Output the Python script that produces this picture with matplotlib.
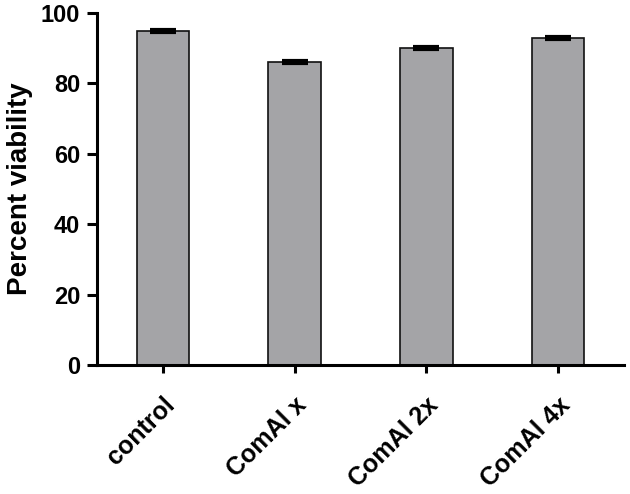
import matplotlib
matplotlib.use("Agg")
import matplotlib.pyplot as plt

categories = ["control", "ComAl x", "ComAl 2x", "ComAl 4x"]
means = [95.0, 86.0, 90.0, 93.0]
errors = [0.3, 0.3, 0.3, 0.3]
yticks = [0, 20, 40, 60, 80, 100]

plt.rcParams['font.family'] = ['Liberation Sans', 'DejaVu Sans']
plt.rcParams['font.weight'] = 'bold'

fig = plt.figure(figsize=(6.3, 4.94), dpi=100)
ax = fig.add_axes([97/630, 1-365/494, (624-97)/630, (365-13)/494])

x = range(len(categories))
ax.bar(x, means, width=0.4, color='#a4a4a7', edgecolor='#111111', linewidth=1.2, zorder=2)
ax.errorbar(x, means, yerr=errors, fmt='none', ecolor='black', elinewidth=1.5,
            capsize=9.5, capthick=3, zorder=3)

ax.set_xlim(-0.5, 3.5)
ax.set_ylim(0, 100)
ax.set_yticks(yticks)
ax.set_xticks(list(x))
ax.set_xticklabels(categories, rotation=45, ha='right', rotation_mode='anchor', fontsize=18, fontweight='bold')
ax.set_yticklabels([str(t) for t in yticks], fontsize=17, fontweight='bold')
ax.set_ylabel("Percent viability", fontsize=20, fontweight='bold', labelpad=6)

for s in ['top', 'right']:
    ax.spines[s].set_visible(False)
for s in ['left', 'bottom']:
    ax.spines[s].set_linewidth(2.2)
ax.tick_params(axis='y', length=7, width=2.2, pad=5)
ax.tick_params(axis='x', length=6, width=2.2, pad=14)

fig.savefig("out.png", dpi=100)
